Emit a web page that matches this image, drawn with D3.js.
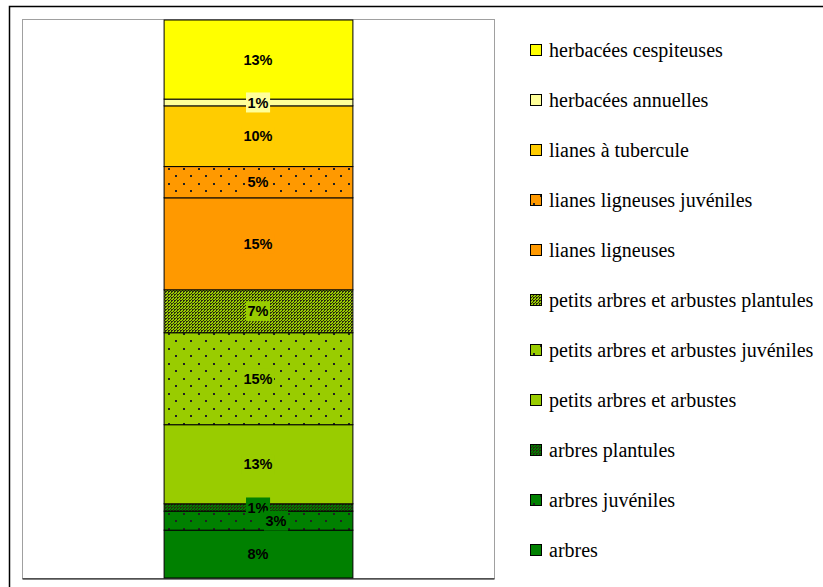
<!DOCTYPE html>
<html>
<head>
<meta charset="utf-8">
<script src="https://cdn.jsdelivr.net/npm/d3@7"></script>
<style>
  html, body { margin: 0; padding: 0; background: #fff; }
  svg { display: block; }
</style>
</head>
<body>
<svg width="823" height="587"></svg>
<script>
// stack order, bottom to top
var categories = [
    "arbres",
    "arbres juvéniles",
    "arbres plantules",
    "petits arbres et arbustes",
    "petits arbres et arbustes juvéniles",
    "petits arbres et arbustes plantules",
    "lianes ligneuses",
    "lianes ligneuses juvéniles",
    "lianes à tubercule",
    "herbacées annuelles",
    "herbacées cespiteuses"
];
var values = [7.8, 3.1, 1.2, 12.9, 15.0, 7.0, 15.0, 5.1, 9.9, 1.1, 12.9];

// styles kept apart from the data
var baseColors = ["#008000", "#008000", "#008000", "#99CC00", "#99CC00", "#99CC00",
                  "#FF9900", "#FF9900", "#FFCC00", "#FFFF99", "#FFFF00"];
var fillKinds = ["solid", "sparse", "dense", "solid", "sparse", "dense",
                 "solid", "sparse", "solid", "solid", "solid"];

var svg = d3.select("svg"),
    width = +svg.attr("width"),
    height = +svg.attr("height");

var plot = {left: 22, top: 20, right: 494, bottom: 578};

var color = d3.scaleOrdinal(categories, baseColors);
var kind = d3.scaleOrdinal(categories, fillKinds);

// patterns
var defs = svg.append("defs");
categories.forEach(function(c, i) {
    var k = kind(c);
    if (k == "solid") return;
    var p = defs.append("pattern")
        .attr("id", "pat" + i)
        .attr("patternUnits", "userSpaceOnUse");
    if (k == "sparse") {
        p.attr("width", 15).attr("height", 15);
        p.append("rect").attr("width", 15).attr("height", 15).attr("fill", color(c));
        p.append("rect").attr("x", 3).attr("y", 3).attr("width", 2).attr("height", 2).attr("fill", "#222");
        p.append("rect").attr("x", 10).attr("y", 10).attr("width", 2).attr("height", 2).attr("fill", "#222");
    } else {
        // fine dark mesh
        p.attr("width", 3).attr("height", 3);
        p.append("rect").attr("width", 3).attr("height", 3).attr("fill", color(c));
        [[0, 0], [1, 0], [0, 1], [2, 2]].forEach(function(d) {
            p.append("rect").attr("x", d[0]).attr("y", d[1]).attr("width", 1).attr("height", 1).attr("fill", "#2a2a10");
        });
    }
});
function fillOf(c) {
    var i = categories.indexOf(c);
    return kind(c) == "solid" ? color(c) : "url(#pat" + i + ")";
}

// outer frame (runs past the window edge)
svg.append("rect")
    .attr("x", 9.5).attr("y", 6.5)
    .attr("width", 830).attr("height", 600)
    .attr("fill", "none")
    .attr("stroke", "#000")
    .attr("stroke-width", 1.5);

// plot area
svg.append("rect")
    .attr("x", plot.left + 0.5).attr("y", plot.top - 0.5)
    .attr("width", plot.right - plot.left).attr("height", plot.bottom - plot.top + 1)
    .attr("fill", "#fff")
    .attr("stroke", "#a0a0a0")
    .attr("stroke-width", 1);

var row = {key: ""};
categories.forEach(function(c, i) { row[c] = values[i]; });
var series = d3.stack().keys(categories)([row]);

var x = d3.scaleBand().domain([""]).range([plot.left, plot.right])
    .paddingInner(0.6).paddingOuter(0.3);
var y = d3.scaleLinear().domain([0, d3.sum(values)]).range([plot.bottom, plot.top]);

svg.append("g")
    .selectAll("rect")
    .data(series)
    .enter().append("rect")
    .attr("x", x("") + 0.5)
    .attr("width", x.bandwidth())
    .attr("y", function(d) { return y(d[0][1]); })
    .attr("height", function(d) { return y(d[0][0]) - y(d[0][1]); })
    .attr("fill", function(d) { return fillOf(d.key); })
    .attr("stroke", "#000")
    .attr("stroke-width", 1);

// bottom axis line
svg.append("g")
    .attr("transform", "translate(0," + (plot.bottom + 0.5) + ")")
    .call(d3.axisBottom(x).tickSize(0).tickSizeOuter(0).tickFormat(""))
    .select(".domain").attr("stroke", "#000");

// data labels
var fmt = function(v) { return d3.format(".0f")(v) + "%"; };
var boxH = 20, labelShift = 18;
var labels = series.map(function(d, i) {
    return {key: d.key, value: values[i], cy: y((d[0][0] + d[0][1]) / 2), dx: 0};
});
labels.forEach(function(l, i) {
    var above = labels[i + 1];
    if (above && l.cy - above.cy < boxH * 0.75) l.dx = labelShift;
});
var lab = svg.append("g")
    .selectAll("g")
    .data(labels.slice().reverse())
    .enter().append("g")
    .attr("transform", function(d) {
        return "translate(" + (x("") + x.bandwidth() / 2 + d.dx) + "," + d.cy + ")";
    });
lab.append("text")
    .attr("text-anchor", "middle")
    .attr("dy", "0.36em")
    .style("font-family", "'Liberation Sans', Arial, sans-serif")
    .style("font-weight", "bold")
    .style("font-size", "14.5px")
    .attr("fill", "#000")
    .text(function(d) { return fmt(d.value); });
lab.each(function(d) {
    var g = d3.select(this), bb = g.select("text").node().getBBox();
    g.insert("rect", "text")
        .attr("x", bb.x - 1.5).attr("y", -boxH / 2)
        .attr("width", bb.width + 3).attr("height", boxH)
        .attr("fill", color(d.key));
});

// legend
var ly = d3.scalePoint().domain(categories.slice().reverse()).range([50, 550]);
var legend = svg.append("g")
    .selectAll("g")
    .data(categories.slice().reverse())
    .enter().append("g")
    .attr("transform", function(d) { return "translate(530," + ly(d) + ")"; });
legend.append("rect")
    .attr("x", 0.5).attr("y", -5.5)
    .attr("width", 11).attr("height", 11)
    .attr("fill", function(d) { return fillOf(d); })
    .attr("stroke", "#000");
legend.append("text")
    .attr("x", 19)
    .attr("y", 7)
    .style("font-family", "'Liberation Serif', 'Times New Roman', serif")
    .style("font-size", "20px")
    .attr("fill", "#000")
    .text(function(d) { return d; });
</script>
</body>
</html>
